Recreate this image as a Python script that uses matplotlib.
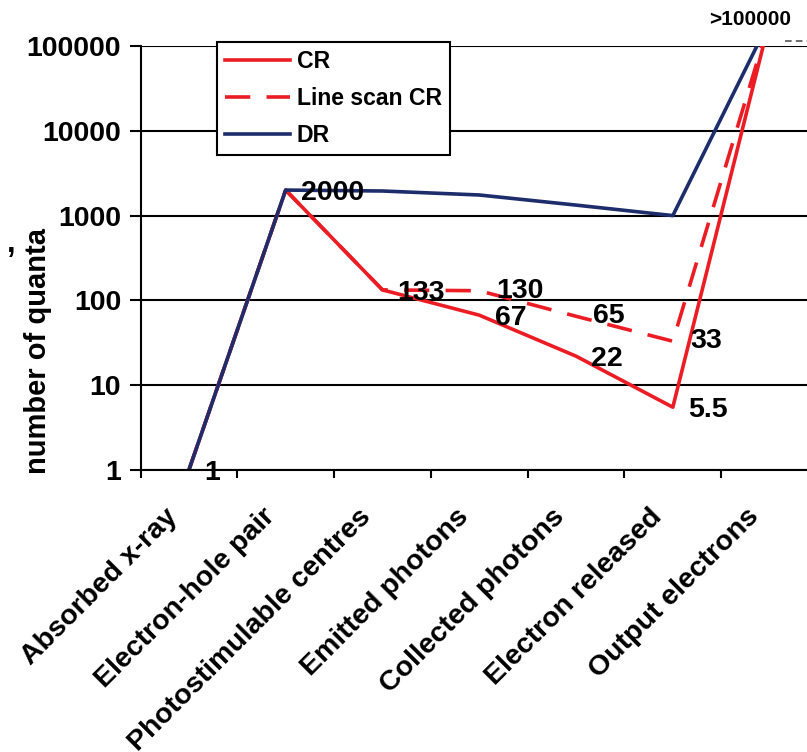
import matplotlib
matplotlib.use("Agg")
import matplotlib.pyplot as plt
from matplotlib.lines import Line2D
from matplotlib.transforms import ScaledTranslation

plt.rcParams['font.family'] = ['Liberation Sans', 'DejaVu Sans']
plt.rcParams['font.weight'] = 'bold'

stages = ["Absorbed x-ray", "Electron-hole pair", "Photostimulable centres",
          "Emitted photons", "Collected photons", "Electron released",
          "Output electrons"]
cr = [1, 2000, 133, 67, 22, 5.5, 200000]
line_scan_cr = [1, 2000, 133, 130, 65, 33, 200000]
dr = [1, 2000, 1950, 1750, 1330, 1000, 200000]

# value labels written next to the points
cr_text = ["1", "2000", "133", "67", "22", "5.5"]
ls_text = ["130", "65", "33"]
ls_idx = [3, 4, 5]
top_text = ">100000"

red = '#EC1C24'
navy = '#1D2D6B'

W, H = 807, 752
fig = plt.figure(figsize=(W / 100, H / 100), dpi=100)
ax = fig.add_axes([140.5 / W, 282 / H, 677.5 / W, 424 / H])

x = list(range(len(stages)))
ax.plot(x, cr, color=red, lw=2.6, label='CR')
ax.plot(x, line_scan_cr, color=red, lw=2.6, dashes=(7, 4.5), label='Line scan CR')
ax.plot(x, dr, color=navy, lw=2.6, label='DR')

ax.set_yscale('log')
ax.set_ylim(1, 100000)
ax.set_xlim(-0.5, len(stages) - 0.5)
ax.set_yticks([1, 10, 100, 1000, 10000, 100000])
ax.set_yticklabels(['1', '10', '100', '1000', '10000', '100000'])
ax.yaxis.set_minor_locator(plt.NullLocator())
ax.tick_params(axis='y', which='major', length=8, width=1.5, labelsize=20.5, pad=6,
               direction='out')
ax.yaxis.grid(True, color='black', lw=1.5)
ax.set_axisbelow(True)

# boundary ticks on x, labels at the category centres
ax.set_xticks([i - 0.5 for i in range(len(stages) + 1)])
ax.set_xticklabels([])
ax.tick_params(axis='x', which='major', length=6, width=1.5, direction='out')
ax.set_xticks(x, minor=True)
ax.set_xticklabels(stages, minor=True, rotation=45, ha='right', va='center',
                   rotation_mode='anchor', fontsize=20.5)
ax.tick_params(axis='x', which='minor', length=0, pad=0)
shift = ScaledTranslation(-15 / 100, -43 / 100, fig.dpi_scale_trans)
for lab in ax.get_xticklabels(minor=True):
    lab.set_transform(lab.get_transform() + shift)

for s in ['top', 'right']:
    ax.spines[s].set_visible(False)
for s in ['left', 'bottom']:
    ax.spines[s].set_linewidth(1.5)

fig.text(38 / W, 1 - 351 / H, 'number of quanta', fontsize=21, rotation=90,
         ha='center', va='center')

# point labels
for i, t in enumerate(cr_text):
    ax.annotate(t, (i, cr[i]), xytext=(11, -2), textcoords='offset points',
                ha='left', va='center', fontsize=20.5, annotation_clip=False)
for i, t in zip(ls_idx, ls_text):
    ax.annotate(t, (i, line_scan_cr[i]), xytext=(12.5, 0), textcoords='offset points',
                ha='left', va='center', fontsize=20.5, annotation_clip=False)
ax.annotate(top_text, (6, 100000), xytext=(-14, 19), textcoords='offset points',
            ha='center', va='center', fontsize=15, annotation_clip=False)

leg = ax.legend(loc='upper left', bbox_to_anchor=(217 / W, 1 - 42 / H),
                bbox_transform=fig.transFigure, borderaxespad=0, fontsize=16.6,
                handlelength=2.8, handletextpad=0.3, labelspacing=0.6,
                borderpad=0.35, fancybox=False, framealpha=1, edgecolor='black')
leg.get_frame().set_linewidth(1.5)
for t in leg.get_texts():
    t.set_fontweight('bold')

# cropped fragments at the picture edges
fig.text(7 / W, 1 - 252 / H, ',', fontsize=22, ha='left', va='baseline')
fig.add_artist(Line2D([785 / W, 807 / W], [1 - 41 / H, 1 - 41 / H],
                      color='#555555', lw=1.2, dashes=(4, 2.5)))

fig.savefig('out.png', dpi=100)
